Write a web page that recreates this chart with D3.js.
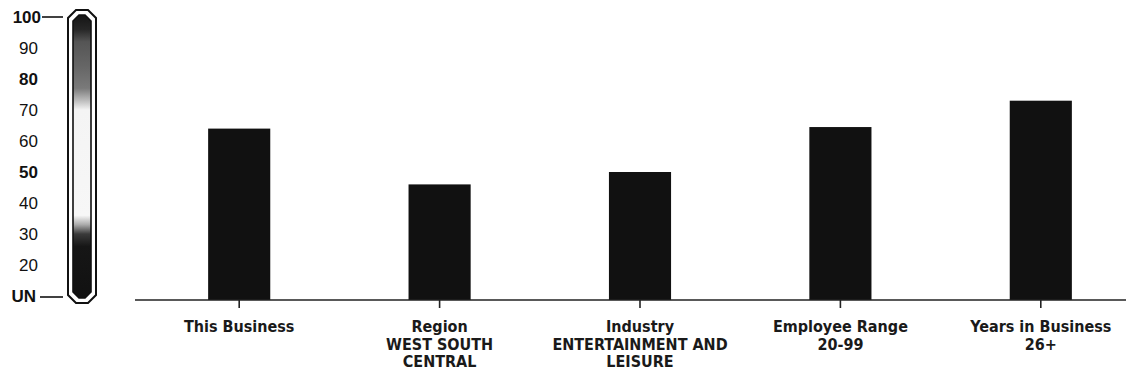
<!DOCTYPE html>
<html>
<head>
<meta charset="utf-8">
<script src="https://cdn.jsdelivr.net/npm/d3@7"></script>
<style>
  html, body { margin: 0; padding: 0; background: #fff; }
  svg { display: block; }
</style>
</head>
<body>
<svg id="chart" width="1126" height="383"></svg>
<script>
// Score comparison data
const categories = [
  ["This Business"],
  ["Region", "WEST SOUTH", "CENTRAL"],
  ["Industry", "ENTERTAINMENT AND", "LEISURE"],
  ["Employee Range", "20-99"],
  ["Years in Business", "26+"]
];
const scores = [64, 46, 50, 64.5, 73];
const tickValues = [10, 20, 30, 40, 50, 60, 70, 80, 90, 100];
const tickLabels = ["UN", "20", "30", "40", "50", "60", "70", "80", "90", "100"];
const boldTicks = ["UN", "50", "80", "100"];

const svg = d3.select("#chart");
const W = 1126;
const baseY = 300;

const y = d3.scaleLinear().domain([10, 100]).range([296, 17]);
const x = d3.scaleBand()
  .domain(d3.range(categories.length))
  .range([139, 1141])
  .paddingInner(0.69)
  .paddingOuter(0.345);

// Gradient legend strip
const defs = svg.append("defs");
const grad = defs.append("linearGradient")
  .attr("id", "scoreGrad")
  .attr("gradientUnits", "userSpaceOnUse")
  .attr("x1", 0).attr("x2", 0)
  .attr("y1", 15).attr("y2", 298);
function stopAt(v, color) {
  grad.append("stop")
    .attr("offset", (y(v) - 15) / (298 - 15))
    .attr("stop-color", color);
}
stopAt(100.5, "#151515");
stopAt(96, "#262626");
stopAt(92, "#555");
stopAt(84, "#666");
stopAt(77, "#7a7a7a");
stopAt(73, "#bdbdbd");
stopAt(70, "#f4f4f4");
stopAt(36, "#f7f7f7");
stopAt(33, "#aaa");
stopAt(30, "#3a3a3a");
stopAt(26, "#161616");
stopAt(9, "#111");

function chamfer(x0, y0, x1, y1, c) {
  return `M${x0 + c},${y0} L${x1 - c},${y0} L${x1},${y0 + c} L${x1},${y1 - c} ` +
         `L${x1 - c},${y1} L${x0 + c},${y1} L${x0},${y1 - c} L${x0},${y0 + c} Z`;
}
svg.append("path")
  .attr("d", chamfer(68, 10, 96, 303, 8))
  .attr("fill", "#fff").attr("stroke", "#111").attr("stroke-width", 2);
svg.append("path")
  .attr("d", chamfer(73, 15, 91, 298, 6))
  .attr("fill", "url(#scoreGrad)").attr("stroke", "#111").attr("stroke-width", 1.6);

// Connector lines for the end ticks
svg.append("line").attr("x1", 42).attr("x2", 63)
  .attr("y1", y(100)).attr("y2", y(100)).attr("stroke", "#111").attr("stroke-width", 1.6);
svg.append("line").attr("x1", 40).attr("x2", 63)
  .attr("y1", y(10) + 1).attr("y2", y(10) + 1).attr("stroke", "#111").attr("stroke-width", 1.6);

// Scale labels
svg.append("g").selectAll("text")
  .data(tickValues)
  .join("text")
  .attr("x", (d, i) => tickLabels[i] === "100" ? 41 : (tickLabels[i] === "UN" ? 36 : 38))
  .attr("y", d => y(d))
  .attr("dy", "0.36em")
  .attr("text-anchor", "end")
  .attr("font-family", "'Liberation Sans', Arial, sans-serif")
  .attr("font-size", 17)
  .attr("font-weight", (d, i) => boldTicks.includes(tickLabels[i]) ? 900 : 400)
  .attr("fill", "#111")
  .text((d, i) => tickLabels[i]);

// Bars
svg.append("g").selectAll("rect")
  .data(scores)
  .join("rect")
  .attr("x", (d, i) => x(i))
  .attr("width", x.bandwidth())
  .attr("y", d => y(d))
  .attr("height", d => baseY - y(d))
  .attr("fill", "#111");

// Category axis
svg.append("line")
  .attr("x1", 135).attr("x2", W)
  .attr("y1", baseY).attr("y2", baseY)
  .attr("stroke", "#222").attr("stroke-width", 1.6);
svg.append("g").selectAll("line")
  .data(categories)
  .join("line")
  .attr("x1", (d, i) => x(i) + x.bandwidth() / 2)
  .attr("x2", (d, i) => x(i) + x.bandwidth() / 2)
  .attr("y1", baseY).attr("y2", baseY + 8)
  .attr("stroke", "#222").attr("stroke-width", 1.6);

const labels = svg.append("g").selectAll("text")
  .data(categories)
  .join("text")
  .attr("x", (d, i) => x(i) + x.bandwidth() / 2)
  .attr("y", 332)
  .attr("text-anchor", "middle")
  .attr("font-family", "'DejaVu Sans Condensed', 'DejaVu Sans', sans-serif")
  .attr("font-size", 16)
  .attr("font-weight", "bold")
  .attr("fill", "#1a1a1a");
labels.selectAll("tspan")
  .data(d => d)
  .join("tspan")
  .attr("x", function () { return d3.select(this.parentNode).attr("x"); })
  .attr("dy", (d, i) => i === 0 ? 0 : 17.5)
  .text(d => d);
</script>
</body>
</html>
